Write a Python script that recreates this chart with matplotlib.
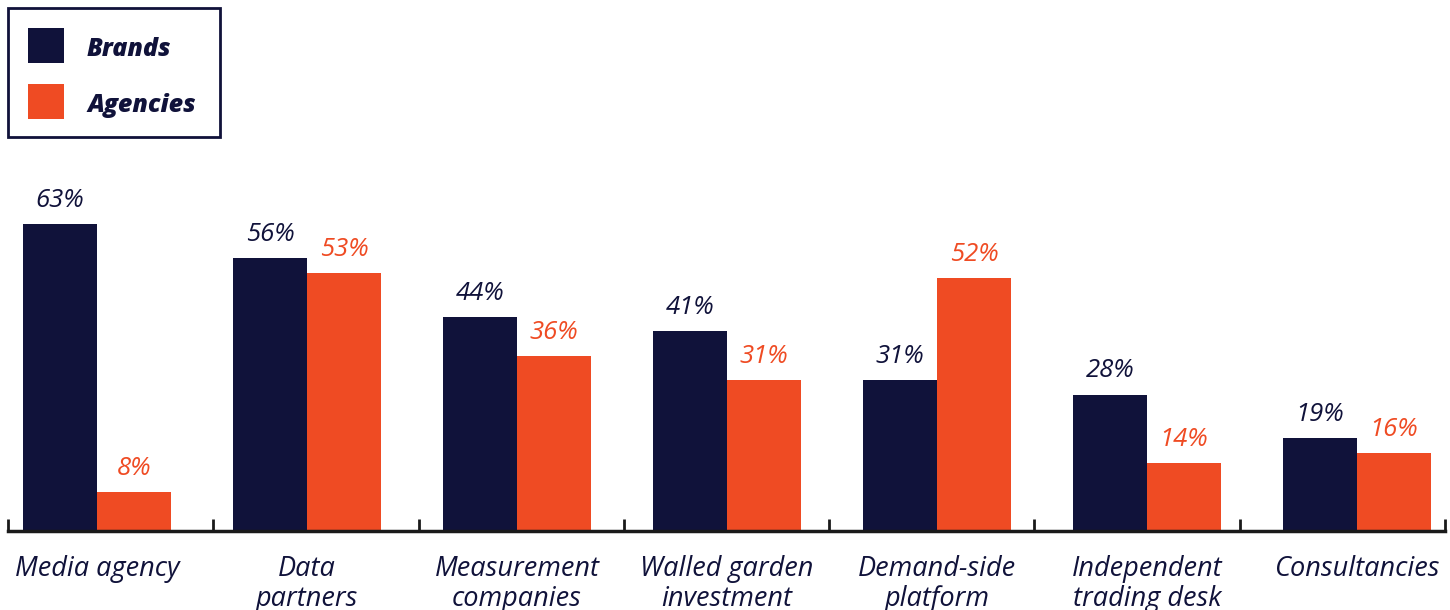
import numpy as np
import matplotlib
matplotlib.use("Agg")
import matplotlib.pyplot as plt
from matplotlib.patches import Rectangle

# data
categories = ["Media agency", "Data\npartners", "Measurement\ncompanies",
              "Walled garden\ninvestment", "Demand-side\nplatform",
              "Independent\ntrading desk", "Consultancies"]
brands = [63, 56, 44, 41, 31, 28, 19]
agencies = [8, 53, 36, 31, 52, 14, 16]
series_names = ["Brands", "Agencies"]

navy = "#10123a"
orange = "#ef4b23"
font = "Open Sans"

W, H = 1450, 610
fig = plt.figure(figsize=(W / 100, H / 100), dpi=100)
ax = fig.add_axes([8 / W, 79 / H, 1437 / W, 531 / H])

x = np.arange(len(categories))
w = 0.352
ax.bar(x - w / 2, brands, w, color=navy)
ax.bar(x + w / 2, agencies, w, color=orange)

# value labels
for xi, b, a in zip(x, brands, agencies):
    ax.annotate(f"{b}%", (xi - w / 2, b), xytext=(0, 8), textcoords="offset points",
                ha="center", va="bottom", color=navy, fontsize=18.5,
                family=font, style="italic")
    ax.annotate(f"{a}%", (xi + w / 2, a), xytext=(0, 8), textcoords="offset points",
                ha="center", va="bottom", color=orange, fontsize=18.5,
                family=font, style="italic")

# category names under each group
for xi, name in zip(x, categories):
    ax.text(xi, -5.0, name, ha="center", va="top", color=navy, fontsize=19.5,
            family=font, style="italic", linespacing=1.08)

ax.set_xlim(-0.4238, 6.419)
ax.set_ylim(0, 109)

# separator ticks along the baseline
ticks = (8 + np.arange(8) * 1437 / 7 - 97) / 210
ax.set_xticks(ticks)
ax.set_xticklabels([])
ax.tick_params(axis="x", direction="in", length=9, width=2, color="#1a1a1a")
ax.set_yticks([])
for s in ["top", "right", "left"]:
    ax.spines[s].set_visible(False)
ax.spines["bottom"].set_linewidth(2.5)
ax.spines["bottom"].set_color("#1a1a1a")

# legend box
def fx(px):
    return px / W

def fy(py):
    return 1 - py / H

fig.add_artist(Rectangle((fx(8), fy(137)), fx(212), 129 / H, transform=fig.transFigure,
                         fill=False, edgecolor=navy, linewidth=2))
for i, (name, col) in enumerate(zip(series_names, [navy, orange])):
    top = 28 + i * 56
    fig.add_artist(Rectangle((fx(28), fy(top + 35)), fx(36), 35 / H,
                             transform=fig.transFigure, facecolor=col, edgecolor="none"))
    fig.text(fx(87), fy(top + 21), name, ha="left", va="center", color=navy,
             fontsize=18, family=font, style="italic", weight="heavy")

fig.savefig("out.png", dpi=100)
